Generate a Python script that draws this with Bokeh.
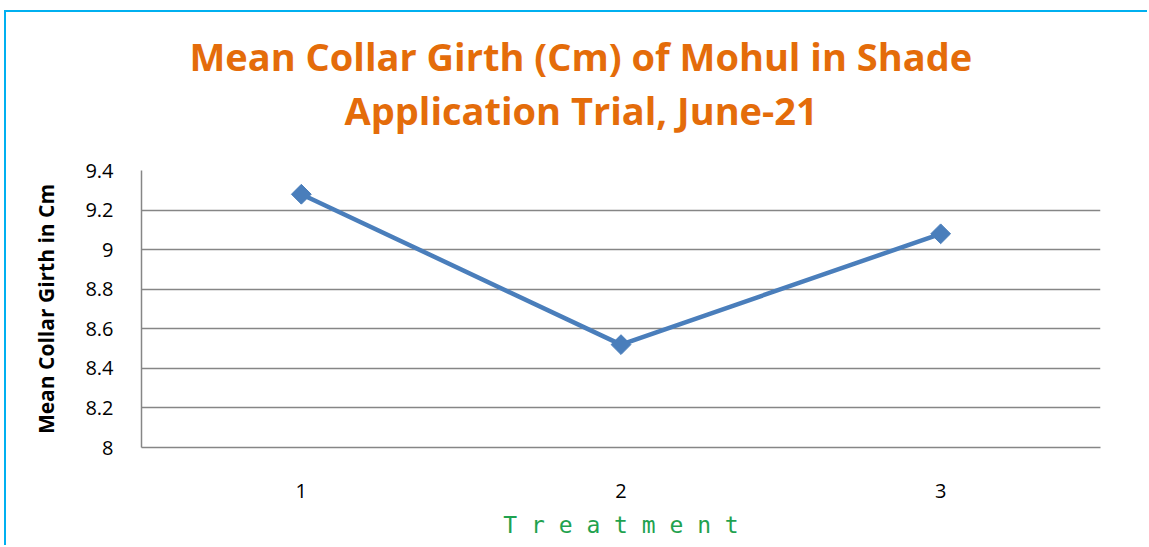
import math
from bokeh.plotting import figure
from bokeh.models import Range1d, FixedTicker, Title
from bokeh.embed import file_html
from bokeh.resources import INLINE

treatments = [1, 2, 3]
girth = [9.28, 8.52, 9.08]
y_ticks = [8, 8.2, 8.4, 8.6, 8.8, 9, 9.2, 9.4]
y_tick_labels = ["8", "8.2", "8.4", "8.6", "8.8", "9", "9.2", "9.4"]
x_tick_labels = ["1", "2", "3"]
title_lines = ["Mean Collar Girth (Cm) of Mohul in Shade", "Application Trial, June-21"]
x_label = "T r e a t m e n t"
y_label = "Mean Collar Girth in Cm"

H = 535
p = figure(width=1143, height=H, output_backend="svg", toolbar_location=None,
           x_range=Range1d(0.5, 3.5), y_range=Range1d(8, 9.4),
           min_border_left=135, min_border_right=49, min_border_top=158, min_border_bottom=100)
p.styles = {"border-left": "2px solid #00B0F0", "border-top": "2px solid #00B0F0",
            "margin-left": "4px", "margin-top": "10px"}
p.outline_line_color = None

title_style = dict(align="left", text_font="Open Sans", text_font_size="38px",
                   text_font_style="bold", text_color="#E46C0A", standoff=0)
p.add_layout(Title(text=" ", text_font_size="1px", standoff=32), "above")
p.add_layout(Title(text=title_lines[1], offset=203, **title_style), "above")
p.add_layout(Title(text=title_lines[0], offset=48, **title_style), "above")

p.line(treatments, girth, line_color="#4A7EBB", line_width=4.5)
p.scatter(treatments, girth, marker="square", size=14, angle=math.pi / 4,
          fill_color="#4A7EBB", line_color="#4A7EBB")

p.xgrid.visible = False
p.ygrid.grid_line_color = "#868686"
p.ygrid.grid_line_width = 1.5

p.yaxis.ticker = FixedTicker(ticks=y_ticks)
p.yaxis.major_label_overrides = {t: l for t, l in zip(y_ticks, y_tick_labels)}
p.xaxis.ticker = FixedTicker(ticks=treatments)
p.xaxis.major_label_overrides = {t: l for t, l in zip(treatments, x_tick_labels)}

for ax in (p.xaxis, p.yaxis):
    ax.axis_line_color = "#868686"
    ax.axis_line_width = 1.5
    ax.major_tick_line_color = None
    ax.minor_tick_line_color = None
    ax.major_label_text_font = "Open Sans"
    ax.major_label_text_font_size = "20px"
    ax.major_label_text_color = "black"

p.yaxis.major_label_standoff = 22
p.xaxis.major_label_standoff = 30
p.yaxis.axis_label = y_label
p.yaxis.axis_label_text_font = "Open Sans"
p.yaxis.axis_label_text_font_size = "21px"
p.yaxis.axis_label_text_font_style = "bold"
p.yaxis.axis_label_text_color = "black"
p.yaxis.axis_label_standoff = 22
p.xaxis.axis_label = x_label
p.xaxis.axis_label_text_font = "DejaVu Sans Mono"
p.xaxis.axis_label_text_font_size = "23px"
p.xaxis.axis_label_text_font_style = "normal"
p.xaxis.axis_label_text_color = "#1FA24F"
p.xaxis.axis_label_standoff = 11

open("out.html", "w").write(file_html(p, INLINE))
